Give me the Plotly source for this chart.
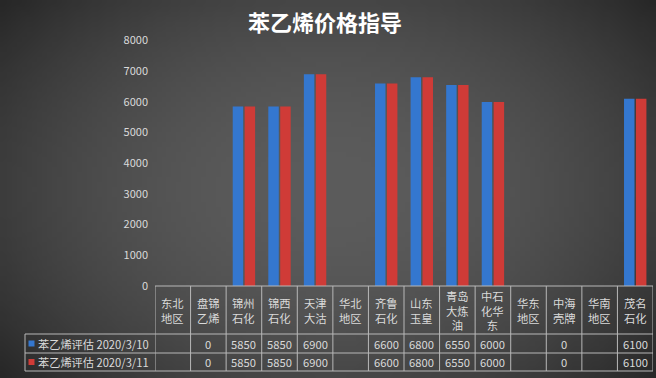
import base64, struct, zlib, math
import plotly.graph_objects as go

# ---------------- data ----------------
title = "苯乙烯价格指导"
categories = ["东北<br>地区", "盘锦<br>乙烯", "锦州<br>石化", "锦西<br>石化", "天津<br>大沽",
              "华北<br>地区", "齐鲁<br>石化", "山东<br>玉皇", "青岛<br>大炼<br>油",
              "中石<br>化华<br>东", "华东<br>地区", "中海<br>壳牌", "华南<br>地区", "茂名<br>石化"]
series_names = ["苯乙烯评估 2020/3/10", "苯乙烯评估 2020/3/11"]
values_0310 = [None, 0, 5850, 5850, 6900, None, 6600, 6800, 6550, 6000, None, 0, None, 6100]
values_0311 = [None, 0, 5850, 5850, 6900, None, 6600, 6800, 6550, 6000, None, 0, None, 6100]
y_ticks = [0, 1000, 2000, 3000, 4000, 5000, 6000, 7000, 8000]

W, H = 656, 378
colors = ["#3477cf", "#cf3b37"]
text_color = "#dadada"
line_color = "#b8b8b8"
FONT = "Noto Sans CJK SC, Microsoft YaHei, sans-serif"

def px(x): return x / W
def py(y): return 1 - y / H

# ---------------- background (radial vignette) ----------------
def make_bg(w=132, h=76):
    rows = []
    for j in range(h):
        row = bytearray([0])
        yy = (j + 0.5) / h * H
        for i in range(w):
            xx = (i + 0.5) / w * W
            d2 = ((xx - 330) / 360) ** 2 + ((yy - 190) / 250) ** 2
            v = int(max(38, min(92, 92 - 38 * d2)))
            row += bytes([v, v, v])
        rows.append(bytes(row))
    raw = b"".join(rows)
    def chunk(t, d):
        c = struct.pack(">I", len(d)) + t + d
        return c + struct.pack(">I", zlib.crc32(t + d) & 0xffffffff)
    png = b"\x89PNG\r\n\x1a\n" + chunk(b"IHDR", struct.pack(">IIBBBBB", w, h, 8, 2, 0, 0, 0)) \
        + chunk(b"IDAT", zlib.compress(raw, 9)) + chunk(b"IEND", b"")
    return "data:image/png;base64," + base64.b64encode(png).decode()

# ---------------- layout geometry ----------------
plot_left, plot_right = 155, 653
plot_top, plot_bottom = 40.5, 286
table_bottom = 371
row1_top, row2_top = 334, 353
legend_left = 25

n = len(categories)
xs = list(range(n))

fig = go.Figure()
for name, vals, col in zip(series_names, [values_0310, values_0311], colors):
    fig.add_trace(go.Bar(x=xs, y=vals, name=name, marker=dict(color=col, line=dict(width=0)),
                         showlegend=False, hoverinfo="y"))

shapes = []
annotations = []

# title
annotations.append(dict(text="<b>" + title + "</b>", x=px(325), y=py(21), xref="paper", yref="paper",
                        showarrow=False, xanchor="center", yanchor="middle",
                        font=dict(size=22, color="#ffffff", family=FONT)))

# table grid
def hline(y, x0p, x1p):
    shapes.append(dict(type="line", xref="paper", yref="paper", x0=x0p, x1=x1p, y0=py(y), y1=py(y),
                       line=dict(color=line_color, width=1)))

hline(plot_bottom, px(plot_left), px(plot_right))
for yv in (row1_top, row2_top, table_bottom):
    hline(yv, px(legend_left), px(plot_right))
for k in range(n + 1):
    shapes.append(dict(type="line", xref="x", yref="paper", x0=k - 0.5, x1=k - 0.5,
                       y0=py(plot_bottom), y1=py(table_bottom), line=dict(color=line_color, width=1)))
shapes.append(dict(type="line", xref="paper", yref="paper", x0=px(legend_left), x1=px(legend_left),
                   y0=py(row1_top), y1=py(table_bottom), line=dict(color=line_color, width=1)))

# category header text (one text per category, centred in the header cell)
for i, cat in enumerate(categories):
    annotations.append(dict(text=cat, x=i, y=py(310.5), xref="x", yref="paper",
                            showarrow=False, xanchor="center", yanchor="middle", align="center",
                            font=dict(size=11.3, color=text_color, family=FONT)))

# data rows
row_centers = [(row1_top + row2_top) / 2, (row2_top + table_bottom) / 2]
for r, (name, vals, col) in enumerate(zip(series_names, [values_0310, values_0311], colors)):
    yc = row_centers[r]
    shapes.append(dict(type="rect", xref="paper", yref="paper", x0=px(28.5), x1=px(34.5),
                       y0=py(yc + 3), y1=py(yc - 3), fillcolor=col, line=dict(width=0)))
    annotations.append(dict(text=name, x=px(36), y=py(yc), xref="paper", yref="paper",
                            showarrow=False, xanchor="left", yanchor="middle",
                            font=dict(size=11.2, color=text_color, family=FONT)))
    for i, v in enumerate(vals):
        if v is None:
            continue
        annotations.append(dict(text=str(v), x=i, y=py(yc), xref="x", yref="paper",
                                showarrow=False, xanchor="center", yanchor="middle",
                                font=dict(size=11.2, color=text_color, family=FONT)))

fig.update_layout(
    width=W, height=H, autosize=False,
    margin=dict(l=0, r=0, t=0, b=0, pad=0),
    paper_bgcolor="#3c3c3c",
    plot_bgcolor="rgba(0,0,0,0)",
    bargap=0.33, bargroupgap=0.12,
    barmode="group",
    images=[dict(source=make_bg(), xref="paper", yref="paper", x=0, y=1, sizex=1, sizey=1,
                 sizing="stretch", layer="below", xanchor="left", yanchor="top")],
    xaxis=dict(domain=[px(plot_left), px(plot_right)], range=[-0.5, n - 0.5],
               showticklabels=False, showgrid=False, zeroline=False, showline=False, fixedrange=True),
    yaxis=dict(domain=[py(plot_bottom), py(plot_top)], range=[0, 8000], tickvals=y_ticks,
               showgrid=False, zeroline=False, showline=False, ticks="", ticklabelstandoff=6,
               automargin=False,
               tickfont=dict(size=11, color=text_color, family=FONT), fixedrange=True),
    shapes=shapes,
    annotations=annotations,
    font=dict(family=FONT),
)

fig.write_html(
    "out.html",
    config={"responsive": False, "displayModeBar": False},
    post_script="document.body.style.margin='0';document.body.style.padding='0';"
                "document.body.style.overflow='hidden';"
                "Plotly.relayout('{plot_id}', {width: 656, height: 378});",
)
